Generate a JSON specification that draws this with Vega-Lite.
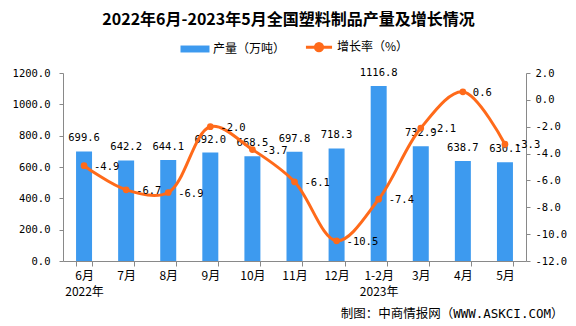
{
  "$schema": "https://vega.github.io/schema/vega-lite/v6.json",
  "width": 463,
  "height": 188,
  "autosize": {"type": "none"},
  "padding": {"left": 63, "top": 73, "right": 50, "bottom": 65},
  "background": "white",
  "title": {
    "text": "2022年6月-2023年5月全国塑料制品产量及增长情况",
    "font": "Noto Sans CJK SC",
    "fontSize": 16,
    "fontWeight": "bold",
    "color": "#000000",
    "anchor": "middle",
    "frame": "group",
    "dx": -6,
    "offset": 13
  },
  "config": {"view": {"stroke": null}, "axis": {"grid": false}},
  "data": {
    "values": [
      {"month": "6月", "prod": 699.6, "growth": -4.9},
      {"month": "7月", "prod": 642.2, "growth": -6.7},
      {"month": "8月", "prod": 644.1, "growth": -6.9},
      {"month": "9月", "prod": 692.0, "growth": -2.0},
      {"month": "10月", "prod": 668.5, "growth": -3.7},
      {"month": "11月", "prod": 697.8, "growth": -6.1},
      {"month": "12月", "prod": 718.3, "growth": -10.5},
      {"month": "1-2月", "prod": 1116.8, "growth": -7.4},
      {"month": "3月", "prod": 732.9, "growth": -2.1},
      {"month": "4月", "prod": 638.7, "growth": 0.6},
      {"month": "5月", "prod": 630.1, "growth": -3.3}
    ]
  },
  "transform": [
    {"calculate": "replace(format(datum.growth, '.1f'), '\u2212', '-')", "as": "glabel"}
  ],
  "encoding": {
    "x": {
      "field": "month",
      "type": "nominal",
      "sort": null,
      "scale": {"paddingInner": 0.62, "paddingOuter": 0.31},
      "axis": {
        "title": "制图：中商情报网（WWW.ASKCI.COM）",
        "titleFont": "DejaVu Sans Mono, Noto Sans CJK SC",
        "titleFontSize": 12.5,
        "titleFontWeight": "normal",
        "titleColor": "#000000",
        "titleX": 500,
        "titleY": 52,
        "titleAlign": "right",
        "titleBaseline": "middle",
        "labelAngle": 0,
        "labelFont": "Noto Sans CJK SC",
        "labelFontSize": 12,
        "labelColor": "#000000",
        "labelExpr": "datum.value == '6月' ? ['6月', '2022年'] : (datum.value == '1-2月' ? ['1-2月', '2023年'] : datum.value)",
        "labelLineHeight": 16,
        "labelBaseline": "top",
        "labelPadding": 4,
        "labelAlign": "center",
        "tickBand": "extent",
        "tickSize": 5,
        "tickColor": "#898989",
        "domainColor": "#898989"
      }
    }
  },
  "layer": [
    {
      "encoding": {
        "y": {
          "field": "prod",
          "type": "quantitative",
          "scale": {"domain": [0, 1200], "nice": false},
          "axis": {
            "title": null,
            "values": [0, 200, 400, 600, 800, 1000, 1200],
            "format": ".1f",
            "labelFont": "DejaVu Sans Mono",
            "labelFontSize": 10.5,
            "labelColor": "#000000",
            "tickSize": 4,
            "labelPadding": 9,
            "tickColor": "#898989",
            "domainColor": "#898989"
          }
        }
      },
      "layer": [
        {
          "mark": {"type": "bar"},
          "encoding": {
            "color": {
              "datum": "产量（万吨）",
              "type": "nominal",
              "scale": {"domain": ["产量（万吨）", "增长率（%）"], "range": ["#3D9AEF", "#FF6A1A"]},
              "legend": {
                "orient": "none",
                "legendX": 126,
                "legendY": -32,
                "direction": "horizontal",
                "title": null,
                "symbolSize": 841,
                "labelFont": "Noto Sans CJK SC",
                "labelFontSize": 12,
                "labelColor": "#000000",
                "columnPadding": 13,
                "labelOffset": 12,
                "padding": 0,
                "encode": {
                  "symbols": {
                    "update": {
                      "shape": {"signal": "datum.value === '产量（万吨）' ? 'M-1,-0.24H1V0.24H-1Z' : 'M-0.9,0H0.9M0.25,0A0.25,0.25,0,1,1,-0.25,0A0.25,0.25,0,1,1,0.25,0'"},
                      "fill": {"signal": "datum.value === '产量（万吨）' ? '#3D9AEF' : '#FF6A1A'"},
                      "stroke": {"signal": "datum.value === '产量（万吨）' ? '#3D9AEF' : '#FF6A1A'"},
                      "strokeWidth": {"signal": "datum.value === '产量（万吨）' ? 0 : 3"},
                      "opacity": {"value": 1},
                      "fillOpacity": {"value": 1}
                    }
                  }
                }
              }
            }
          }
        },
        {
          "mark": {"type": "text", "font": "DejaVu Sans Mono", "fontSize": 10.5, "color": "#000000", "baseline": "middle", "dy": -13},
          "encoding": {"text": {"field": "prod", "type": "quantitative", "format": ".1f"}}
        }
      ]
    },
    {
      "encoding": {
        "y": {
          "field": "growth",
          "type": "quantitative",
          "scale": {"domain": [-12, 2], "nice": false},
          "axis": {
            "orient": "right",
            "title": null,
            "values": [-12, -10, -8, -6, -4, -2, 0, 2],
            "labelExpr": "replace(format(datum.value, '.1f'), '\u2212', '-')",
            "labelFont": "DejaVu Sans Mono",
            "labelFontSize": 10.5,
            "labelColor": "#000000",
            "tickSize": 4,
            "labelPadding": 5,
            "tickColor": "#898989",
            "domainColor": "#898989"
          }
        }
      },
      "layer": [
        {
          "mark": {"type": "line", "interpolate": "catmull-rom", "strokeWidth": 3},
          "encoding": {
            "color": {"datum": "增长率（%）", "type": "nominal"}
          }
        },
        {
          "mark": {"type": "point", "filled": true, "size": 45, "color": "#FF6A1A", "opacity": 1},
          "encoding": {}
        },
        {
          "mark": {"type": "text", "font": "DejaVu Sans Mono", "fontSize": 10.5, "color": "#000000", "align": "left", "baseline": "middle", "dx": 10, "dy": 1},
          "encoding": {"text": {"field": "glabel", "type": "nominal"}}
        }
      ]
    }
  ],
  "resolve": {"scale": {"y": "independent"}}
}
